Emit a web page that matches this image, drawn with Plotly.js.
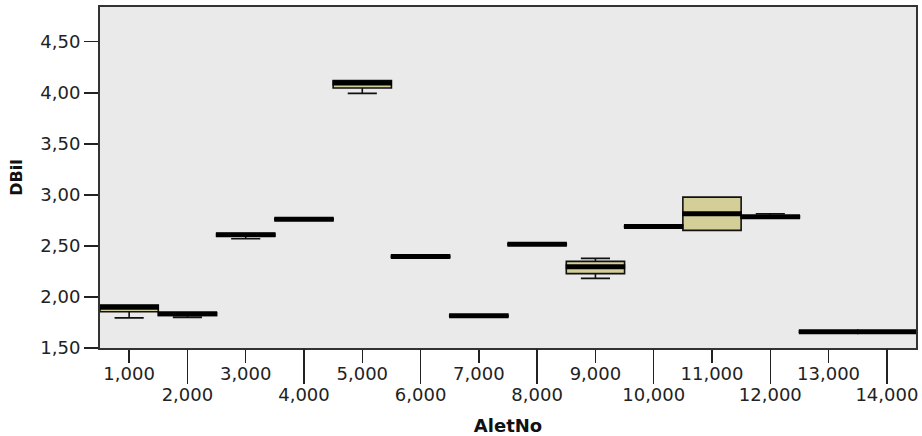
<!DOCTYPE html>
<html>
<head>
<meta charset="utf-8">
<script src="https://cdn.plot.ly/plotly-3.0.1.min.js"></script>
<style>html,body{margin:0;padding:0;background:#fff;}#chart{width:922px;height:436px;}</style>
</head>
<body>
<div id="chart"></div>
<script>
// Categories (AletNo)
const categories = [1,2,3,4,5,6,7,8,9,10,11,12,13,14];
const categoryLabels = ["1,000","2,000","3,000","4,000","5,000","6,000","7,000","8,000","9,000","10,000","11,000","12,000","13,000","14,000"];
// Box statistics for DBil
const lowerWhisker = [1.795,1.800,2.570,2.755,3.994,2.390,1.810,2.510,2.182,2.685,2.652,2.775,1.655,1.655];
const q1Values     = [1.855,1.820,2.595,2.755,4.046,2.390,1.810,2.510,2.228,2.685,2.652,2.775,1.655,1.655];
const medianValues = [1.900,1.835,2.610,2.760,4.095,2.395,1.815,2.515,2.297,2.690,2.815,2.785,1.660,1.660];
const q3Values     = [1.920,1.845,2.620,2.765,4.120,2.400,1.820,2.520,2.348,2.695,2.978,2.795,1.665,1.665];
const upperWhisker = [1.920,1.845,2.620,2.765,4.120,2.400,1.820,2.520,2.378,2.695,2.978,2.815,1.665,1.665];
// Y axis ticks
const yTickVals = [1.5,2.0,2.5,3.0,3.5,4.0,4.5];
const yTickText = ["1,50","2,00","2,50","3,00","3,50","4,00","4,50"];

const oddCats = categories.filter((c,i)=>i%2===0);
const oddLabels = categoryLabels.filter((c,i)=>i%2===0);
const evenCats = categories.filter((c,i)=>i%2===1);
const evenLabels = categoryLabels.filter((c,i)=>i%2===1);

const tickFont = {family:"DejaVu Sans", size:18, color:"#222"};

const traces = [
  {
    type:"box",
    x: categories,
    q1: q1Values,
    median: medianValues,
    q3: q3Values,
    lowerfence: lowerWhisker,
    upperfence: upperWhisker,
    width: 1.0,
    boxpoints:false,
    fillcolor:"#D4CF98",
    line:{color:"#111", width:1.6},
    whiskerwidth:0.5,
    showlegend:false,
    hoverinfo:"skip"
  },
  {
    type:"scatter",
    mode:"markers",
    xaxis:"x2",
    x: categories,
    y: medianValues,
    marker:{symbol:"line-ew", size:42.5, color:"#000", line:{color:"#000", width:5}},
    showlegend:false,
    hoverinfo:"skip"
  }
];

const layout = {
  width:922, height:436,
  margin:{l:100, r:6, t:7, b:88},
  paper_bgcolor:"#ffffff",
  plot_bgcolor:"#EAEAEA",
  boxgap:0, boxgroupgap:0,
  xaxis:{
    range:[0.5,14.5],
    tickmode:"array", tickvals: oddCats, ticktext: oddLabels,
    ticks:"outside", ticklen:13, tickwidth:1.5, tickcolor:"#222",
    ticklabelstandoff:-5,
    showline:true, linecolor:"#333", linewidth:2, mirror:true,
    showgrid:false, zeroline:false,
    tickfont: tickFont
  },
  xaxis2:{
    overlaying:"x", anchor:"y", side:"bottom",
    range:[0.5,14.5],
    tickmode:"array", tickvals: evenCats, ticktext: evenLabels,
    ticks:"outside", ticklen:35, tickwidth:1.5, tickcolor:"#222",
    ticklabelstandoff:-5,
    showline:false, showgrid:false, zeroline:false,
    tickfont: tickFont,
    title:{text:"AletNo", font:{family:"DejaVu Sans", size:18, color:"#111", weight:"bold"}, standoff:18}
  },
  yaxis:{
    range:[1.5,4.84],
    tickmode:"array", tickvals: yTickVals, ticktext: yTickText,
    ticks:"outside", ticklen:14, tickwidth:1.5, tickcolor:"#222",
    showline:true, linecolor:"#333", linewidth:2, mirror:true,
    showgrid:false, zeroline:false,
    tickfont: tickFont,
    title:{text:"DBil", font:{family:"DejaVu Sans", size:16, color:"#111", weight:"bold"}, standoff:14}
  }
};

Plotly.newPlot("chart", traces, layout, {displayModeBar:false, staticPlot:true});
</script>
</body>
</html>
